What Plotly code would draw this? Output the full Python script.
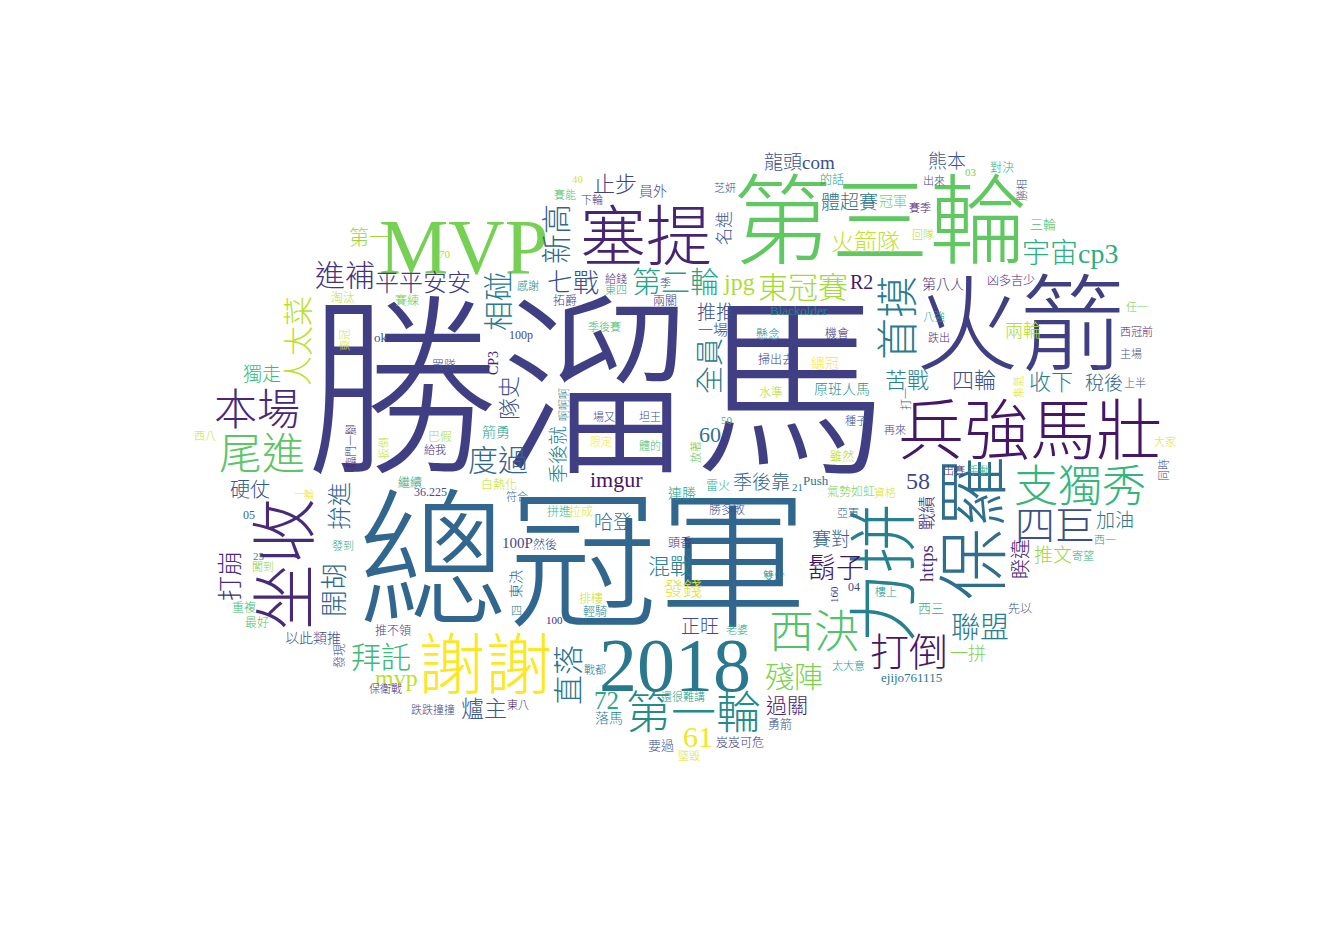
import plotly.graph_objects as go
from plotly.colors import sample_colorscale

# word cloud: words, font size (px), centre in pixel coords, vertical flag, viridis shade
WORDS = [
    "勝溜馬", "總冠軍", "火箭", "第三輪", "MVP", "兵強馬壯", "塞提", "坐收", "保羅", "力拼",
    "謝謝", "2018", "西決", "第一輪", "支獨秀", "本場", "尾進", "首摸", "四巨", "打倒",
    "拜託", "進補", "相碰", "新高", "東冠賽", "直落", "度過", "人太菜", "61", "第二輪",
    "聯盟", "殘陣", "全員", "鬍子", "宇宙cp3", "開胡", "七戰", "打崩", "72", "平平安安",
    "拚進", "jpg", "58", "mvp", "火箭隊", "爐主", "止步", "隊史", "混戰", "苦戰",
    "四輪", "收下", "imgur", "60", "過關", "睽違", "R2", "硬仗", "體超賽", "龍頭com",
    "熊本", "稅後", "加油", "推文", "正旺", "發錢", "季後靠", "賽對", "哈登", "推推",
    "季後就", "獨走", "https", "第一", "兩輪", "一拼", "名進", "戰績", "一場", "100P",
    "員外", "冠軍", "第八人", "原班人馬", "連勝", "落馬", "箭勇", "CP3", "以此類推", "總冠",
    "三輪", "西三", "要過", "ok", "凶多吉少", "對決", "的話", "先以", "ejijo761115", "勇箭",
    "岌岌可危", "懸念", "機會", "掃出去", "水準", "雖然", "Push", "雷火", "勝多敗", "氣勢如虹",
    "頭香", "拼進", "拉成", "然後", "排樓", "輕騎", "拓爵", "兩關", "淘汰", "賽練",
    "眾隊", "巴假", "白熱化", "繼續", "重複", "最好", "推不領", "發現", "賽能", "下輪",
    "芝妍", "感謝", "給錢", "東四", "季", "季後賽", "100p", "Blackolder", "出來", "勝相",
    "賽季", "回隊", "八強", "任一", "跌出", "西冠前", "主場", "上半", "集氣", "打一",
    "種子", "再來", "大家", "同時", "出賽", "手動", "資格", "亞軍", "西一", "寄望",
    "樓上", "04", "160", "雙少", "老婆", "太大意", "還很難講", "墜毀", "戰都", "100",
    "四", "東決", "東八", "跌跌撞撞", "保衛戰", "符合", "36.225", "給我", "臨門一腳", "扳倒",
    "西八", "一輪", "05", "發到", "25", "闖到", "東冠", "啊啊啊", "場又", "坦王",
    "限定", "體的", "放著", "50", "21", "70", "40", "03",
]

SIZES = [
    195, 150, 105, 98, 78, 66, 66, 66, 72, 70,
    67, 76, 45, 45, 44, 43, 43, 42, 40, 39,
    30, 30, 30, 30, 30, 30, 30, 30, 30, 29,
    29, 29, 28, 28, 28, 27, 26, 25, 25, 24,
    24, 24, 24, 24, 23, 23, 22, 22, 22, 22,
    22, 22, 22, 22, 21, 20, 20, 20, 19, 19,
    19, 19, 19, 19, 19, 19, 19, 19, 19, 19,
    19, 19, 19, 20, 18, 18, 17, 17, 15, 15,
    14, 14, 14, 14, 14, 14, 14, 14, 14, 14,
    13, 13, 13, 13, 12, 12, 12, 12, 13, 12,
    12, 12, 12, 12, 12, 12, 13, 12, 12, 12,
    12, 12, 12, 12, 12, 12, 12, 12, 12, 12,
    12, 12, 12, 12, 12, 12, 12, 12, 11, 11,
    11, 11, 11, 11, 11, 11, 12, 13, 11, 11,
    11, 11, 11, 11, 11, 11, 11, 11, 11, 11,
    11, 11, 11, 11, 11, 11, 11, 11, 11, 11,
    11, 12, 11, 11, 11, 11, 11, 11, 11, 11,
    11, 14, 11, 11, 11, 11, 12, 11, 11, 11,
    11, 10, 12, 11, 11, 11, 11, 11, 11, 11,
    11, 11, 11, 11, 11, 11, 11, 11,
]

X_POS = [
    588, 575, 1012, 872, 455, 1022, 638, 277, 967, 877,
    477, 667, 806, 685, 1072, 249, 254, 891, 1047, 901,
    373, 337, 490, 548, 795, 560, 490, 290, 690, 667,
    972, 786, 702, 828, 1062, 327, 565, 222, 598, 415,
    332, 731, 910, 388, 857, 476, 607, 501, 662, 899,
    966, 1043, 608, 702, 779, 1013, 853, 242, 841, 791,
    939, 1096, 1107, 1045, 692, 675, 753, 823, 605, 708,
    550, 254, 918, 361, 1015, 960, 716, 919, 705, 509,
    645, 885, 935, 834, 674, 601, 488, 485, 305, 817,
    1035, 923, 653, 373, 1003, 994, 824, 1012, 903, 772,
    732, 760, 829, 768, 763, 834, 808, 710, 719, 843,
    672, 551, 573, 537, 583, 587, 557, 657, 335, 399,
    436, 432, 491, 402, 236, 249, 385, 332, 557, 584,
    717, 520, 608, 608, 657, 596, 513, 791, 926, 1014,
    912, 915, 926, 1129, 931, 1128, 1123, 1127, 1010, 898,
    848, 887, 1157, 1156, 946, 971, 877, 840, 1097, 1075,
    878, 846, 826, 766, 729, 840, 675, 681, 587, 546,
    508, 508, 510, 425, 377, 509, 422, 427, 343, 376,
    197, 296, 241, 335, 251, 255, 337, 556, 596, 642,
    593, 642, 688, 719, 789, 437, 570, 963,
]

Y_POS = [
    385, 556, 318, 215, 238, 423, 229, 556, 520, 565,
    658, 657, 625, 706, 479, 402, 446, 310, 518, 644,
    649, 267, 293, 226, 279, 667, 452, 333, 728, 275,
    620, 670, 358, 560, 245, 582, 275, 568, 692, 275,
    498, 274, 473, 670, 234, 701, 176, 390, 558, 372,
    372, 374, 471, 426, 698, 551, 274, 482, 194, 154,
    153, 375, 512, 547, 618, 581, 474, 531, 514, 304,
    447, 366, 556, 230, 323, 646, 220, 505, 322, 535,
    183, 193, 276, 381, 485, 710, 424, 355, 630, 355,
    216, 600, 737, 329, 273, 160, 171, 601, 669, 717,
    735, 326, 326, 352, 385, 449, 472, 478, 502, 484,
    535, 504, 504, 537, 591, 604, 293, 293, 290, 293,
    358, 429, 477, 475, 600, 615, 622, 648, 187, 192,
    180, 277, 271, 282, 275, 319, 327, 302, 173, 182,
    200, 227, 309, 299, 330, 323, 346, 375, 379, 391,
    413, 422, 433, 462, 463, 463, 484, 505, 532, 547,
    584, 579, 587, 568, 622, 657, 688, 748, 662, 612,
    603, 576, 697, 701, 681, 489, 484, 442, 438, 440,
    428, 486, 507, 538, 548, 559, 332, 397, 409, 409,
    434, 437, 444, 412, 479, 246, 171, 164,
]

VERTICAL = [
    0, 0, 0, 0, 0, 0, 0, 1, 1, 1,
    0, 0, 0, 0, 0, 0, 0, 1, 0, 0,
    0, 0, 1, 1, 0, 1, 0, 1, 0, 0,
    0, 0, 1, 0, 0, 1, 0, 1, 0, 0,
    1, 0, 0, 0, 0, 0, 0, 1, 0, 0,
    0, 0, 0, 0, 0, 1, 0, 0, 0, 0,
    0, 0, 0, 0, 0, 0, 0, 0, 0, 0,
    1, 0, 1, 0, 0, 0, 1, 1, 0, 0,
    0, 0, 0, 0, 0, 0, 0, 1, 0, 0,
    0, 0, 0, 0, 0, 0, 0, 0, 0, 0,
    0, 0, 0, 0, 0, 0, 0, 0, 0, 0,
    0, 0, 0, 0, 0, 0, 0, 0, 0, 0,
    0, 0, 0, 0, 0, 0, 0, 1, 0, 0,
    0, 0, 0, 0, 0, 0, 0, 0, 0, 1,
    0, 0, 0, 0, 0, 0, 0, 0, 1, 1,
    0, 0, 0, 1, 0, 0, 0, 0, 0, 0,
    0, 0, 1, 0, 0, 0, 0, 0, 0, 0,
    0, 1, 0, 0, 0, 0, 0, 0, 1, 1,
    0, 0, 0, 0, 0, 0, 1, 1, 0, 0,
    0, 0, 1, 0, 0, 0, 0, 0,
]

SHADE = [
    0.19, 0.33, 0.19, 0.75, 0.79, 0.06, 0.10, 0.12, 0.36, 0.44,
    1.00, 0.40, 0.72, 0.48, 0.66, 0.11, 0.74, 0.42, 0.25, 0.06,
    0.68, 0.15, 0.42, 0.33, 0.86, 0.38, 0.33, 0.90, 0.98, 0.58,
    0.42, 0.80, 0.40, 0.05, 0.62, 0.33, 0.25, 0.12, 0.60, 0.16,
    0.33, 0.88, 0.22, 0.90, 0.91, 0.28, 0.20, 0.25, 0.43, 0.45,
    0.24, 0.42, 0.06, 0.38, 0.10, 0.10, 0.07, 0.27, 0.38, 0.25,
    0.27, 0.33, 0.40, 0.85, 0.24, 0.95, 0.33, 0.33, 0.33, 0.24,
    0.45, 0.68, 0.14, 0.85, 0.88, 0.80, 0.27, 0.10, 0.24, 0.22,
    0.24, 0.80, 0.14, 0.50, 0.56, 0.42, 0.55, 0.10, 0.22, 1.00,
    0.70, 0.62, 0.28, 0.25, 0.10, 0.62, 0.58, 0.25, 0.40, 0.22,
    0.18, 0.48, 0.14, 0.20, 0.88, 0.86, 0.38, 0.60, 0.25, 0.80,
    0.12, 0.66, 0.95, 0.20, 0.93, 0.45, 0.22, 0.20, 0.90, 0.78,
    0.25, 0.88, 0.90, 0.58, 0.70, 0.72, 0.20, 0.20, 0.72, 0.18,
    0.27, 0.50, 0.12, 0.65, 0.22, 0.70, 0.22, 0.45, 0.22, 0.28,
    0.10, 0.88, 0.55, 0.78, 0.14, 0.10, 0.25, 0.28, 0.95, 0.30,
    0.25, 0.22, 0.95, 0.20, 0.12, 0.66, 0.95, 0.33, 0.55, 0.65,
    0.55, 0.22, 0.16, 0.48, 0.60, 0.55, 0.55, 0.95, 0.38, 0.12,
    0.40, 0.33, 0.10, 0.22, 0.12, 0.33, 0.25, 0.10, 0.10, 0.90,
    0.92, 0.98, 0.35, 0.62, 0.50, 0.82, 0.95, 0.45, 0.22, 0.22,
    1.00, 0.70, 0.75, 0.65, 0.45, 0.88, 0.95, 0.80,
]

n = len(WORDS)
assert all(len(a) == n for a in (SIZES, X_POS, Y_POS, VERTICAL, SHADE))

FONT = "Liberation Serif, Noto Sans CJK TC, serif"
colors = sample_colorscale("Viridis", SHADE)

fig = go.Figure()
for word, size, x, y, vert, col in zip(WORDS, SIZES, X_POS, Y_POS, VERTICAL, colors):
    fig.add_annotation(
        x=x, y=y, xref="x", yref="y",
        text=word, showarrow=False,
        textangle=-90 if vert else 0,
        xanchor="center", yanchor="middle",
        # thinner strokes come closer to the light serif look of the original
        font=dict(size=size, color=col, family=FONT, weight=300),
    )

fig.update_layout(
    width=1334, height=945,
    margin=dict(l=0, r=0, t=0, b=0),
    paper_bgcolor="white", plot_bgcolor="white",
    showlegend=False,
    xaxis=dict(range=[0, 1334], visible=False, fixedrange=True),
    yaxis=dict(range=[945, 0], visible=False, fixedrange=True),
)

fig.write_html("out.html")
